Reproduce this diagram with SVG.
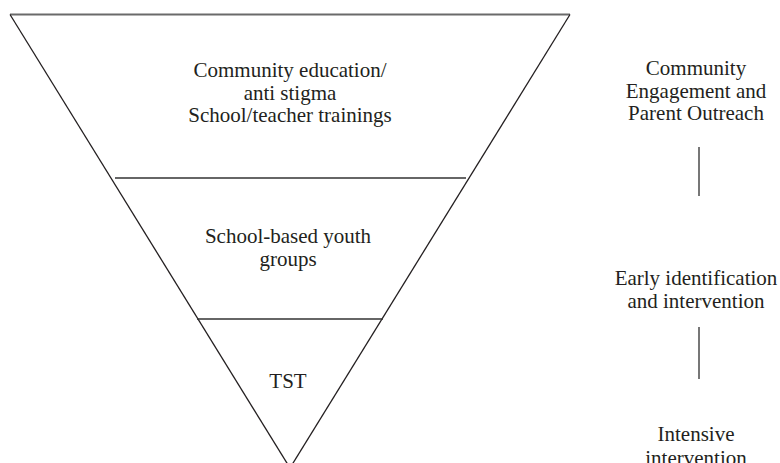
<svg xmlns="http://www.w3.org/2000/svg" width="780" height="463" viewBox="0 0 780 463">
<style>
text{font-family:"Liberation Serif","Times New Roman",serif;font-size:21px;fill:#231f20;text-anchor:middle}
.side{stroke:#231f20;stroke-width:1.3;fill:none}
.div{stroke:#333;stroke-width:1.4;fill:none}
.top{stroke:#6a6a6a;stroke-width:1.8;fill:none}
.conn{stroke:#555;stroke-width:1.6;fill:none}
</style>
<rect width="780" height="463" fill="#fff"/>
<g id="triangle">
<line class="top" x1="10" y1="14.5" x2="570" y2="14.5"/>
<line class="side" x1="10" y1="14.5" x2="290" y2="468"/>
<line class="side" x1="570" y1="14.5" x2="290" y2="468"/>
</g>
<g id="tier1">
<text x="290" y="77">Community education/</text>
<text x="290" y="99.5">anti stigma</text>
<text x="290" y="122">School/teacher trainings</text>
</g>
<g id="tier2">
<line class="div" x1="115" y1="178" x2="466" y2="178"/>
<text x="288" y="242.5">School-based youth</text>
<text x="288" y="265.5">groups</text>
</g>
<g id="tier3">
<line class="div" x1="197" y1="319" x2="383" y2="319"/>
<text x="288" y="388">TST</text>
</g>
<g id="level1">
<text x="696" y="75">Community</text>
<text x="696" y="97.5">Engagement and</text>
<text x="696" y="120">Parent Outreach</text>
</g>
<g id="level2">
<text x="696" y="285">Early identification</text>
<text x="696" y="308">and intervention</text>
</g>
<g id="level3">
<text x="696" y="441">Intensive</text>
<text x="696" y="465">intervention</text>
</g>
<g id="connectors">
<line class="conn" x1="699" y1="147" x2="699" y2="196"/>
<line class="conn" x1="699" y1="327" x2="699" y2="379"/>
</g>
</svg>
